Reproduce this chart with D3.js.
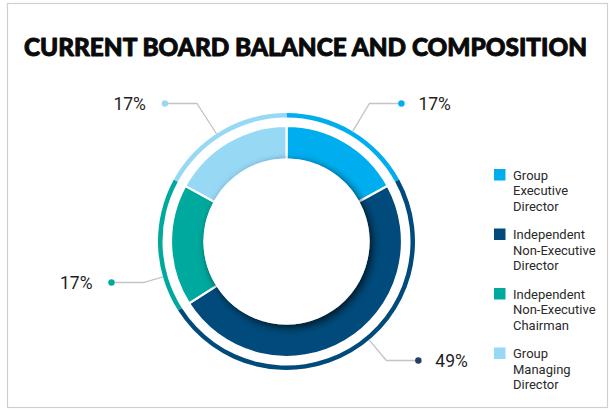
<!DOCTYPE html>
<html>
<head>
<meta charset="utf-8">
<script src="https://cdn.jsdelivr.net/npm/d3@7"></script>
<style>
  html, body { margin: 0; padding: 0; background: #fff; }
  svg { display: block; }
</style>
</head>
<body>
<svg id="chart" width="613" height="410"></svg>
<script>
// Board composition (percent of seats)
const categories = [
  "Group\nExecutive\nDirector",
  "Independent\nNon-Executive\nDirector",
  "Independent\nNon-Executive\nChairman",
  "Group\nManaging\nDirector"
];
const values = [17, 49, 17, 17];
const colors = ["#00aeef", "#004b7c", "#00a99d", "#97d8f5"];
const dotColors = ["#00aeef", "#233f66", "#00a99d", "#97d8f5"];
const title = "CURRENT BOARD BALANCE AND COMPOSITION";

// Label layout: leader direction (degrees clockwise from 12 o'clock),
// vertical offset of the label row from the centre, and which side it sits on.
const leaderDeg = [31, 140, 254, 327];
const labelDy = [-138, 119, 41, -138];
const labelSide = [1, 1, -1, -1];

const W = 613, H = 410;
const cx = 286.5, cy = 241.5;
const rInner = 83, rOuter = 114.5;
const ringIn = 124, ringOut = 128.5;

const svg = d3.select("#chart");

// frame
svg.append("rect")
  .attr("x", 7.5).attr("y", 3.5).attr("width", 600).attr("height", 404)
  .attr("fill", "#fff").attr("stroke", "#cfcfcf").attr("stroke-width", 1.2);

// title, sized so it spans the header width
const titleWidth = 563;
const tt = svg.append("text")
  .attr("x", 24).attr("y", 56)
  .style("font-family", "Lato, 'Open Sans', sans-serif")
  .style("font-weight", 900).style("font-size", "26px")
  .attr("fill", "#0a0a0a")
  .attr("stroke", "#0a0a0a").attr("stroke-width", 0.9)
  .attr("stroke-linejoin", "round")
  .text(title);
const natural = tt.node().getComputedTextLength();
tt.style("font-size", (26 * titleWidth / natural).toFixed(2) + "px");

const defs = svg.append("defs");
const f = defs.append("filter").attr("id", "holeShadow")
  .attr("x", "-30%").attr("y", "-30%").attr("width", "160%").attr("height", "160%");
f.append("feDropShadow")
  .attr("dx", 3).attr("dy", 3).attr("stdDeviation", 4.5)
  .attr("flood-color", "#000").attr("flood-opacity", 0.7);

const pie = d3.pie().sort(null).value(d => d)
  .startAngle(0).endAngle(2 * Math.PI);
const arcs = pie(values);

const g = svg.append("g").attr("transform", `translate(${cx},${cy})`);

// thin outer ring
const ringArc = d3.arc().innerRadius(ringIn).outerRadius(ringOut);
g.selectAll("path.ring").data(arcs).join("path")
  .attr("class", "ring")
  .attr("d", ringArc)
  .attr("fill", (d, i) => colors[i]);

// main donut
const mainArc = d3.arc().innerRadius(rInner - 1).outerRadius(rOuter + 1);
g.selectAll("path.seg").data(arcs).join("path")
  .attr("class", "seg")
  .attr("d", mainArc)
  .attr("fill", (d, i) => colors[i])
  .attr("stroke", "#fff").attr("stroke-width", 2.2)
  .attr("stroke-linejoin", "miter");

// centre disc casting a soft shadow onto the ring
g.append("circle")
  .attr("r", rInner)
  .attr("fill", "#fff")
  .attr("filter", "url(#holeShadow)");

// value labels with elbow leaders
const rad = d => d * Math.PI / 180;
arcs.forEach((a, i) => {
  const ang = rad(leaderDeg[i]);
  const ux = Math.sin(ang), uy = -Math.cos(ang);
  const sx = ux * ringOut, sy = uy * ringOut;
  const ey = labelDy[i];
  const er = ey / uy;
  const ex = ux * er;
  const dotX = ex + labelSide[i] * 32;

  g.append("polyline")
    .attr("points", [[sx, sy], [ex, ey], [dotX, ey]].map(p => p.join(",")).join(" "))
    .attr("fill", "none").attr("stroke", "#c4c4c4").attr("stroke-width", 1.3);

  g.append("circle")
    .attr("cx", dotX).attr("cy", ey).attr("r", 3.2)
    .attr("fill", dotColors[i]);

  g.append("text")
    .attr("x", dotX + labelSide[i] * (labelSide[i] > 0 ? 17 : 19))
    .attr("y", ey)
    .attr("dy", "0.36em")
    .attr("text-anchor", labelSide[i] > 0 ? "start" : "end")
    .style("font-family", "Roboto, sans-serif")
    .style("font-size", "17.5px")
    .attr("fill", "#1e1e1e")
    .text(values[i] + "%");
});

// legend
const legendY = d3.scaleBand().domain(d3.range(categories.length))
  .range([169, 169 + 59.5 * categories.length]);
const lg = svg.append("g");
categories.forEach((c, i) => {
  const y0 = legendY(i);
  lg.append("rect")
    .attr("x", 494).attr("y", y0).attr("width", 11.5).attr("height", 11.5)
    .attr("fill", colors[i]);
  const t = lg.append("text")
    .attr("x", 513).attr("y", y0 + 10.5)
    .style("font-family", "Roboto, sans-serif")
    .style("font-size", "13px")
    .attr("fill", "#2a2a2a");
  c.split("\n").forEach((line, k) => {
    t.append("tspan").attr("x", 513).attr("dy", k === 0 ? 0 : 15.5).text(line);
  });
});
</script>
</body>
</html>
